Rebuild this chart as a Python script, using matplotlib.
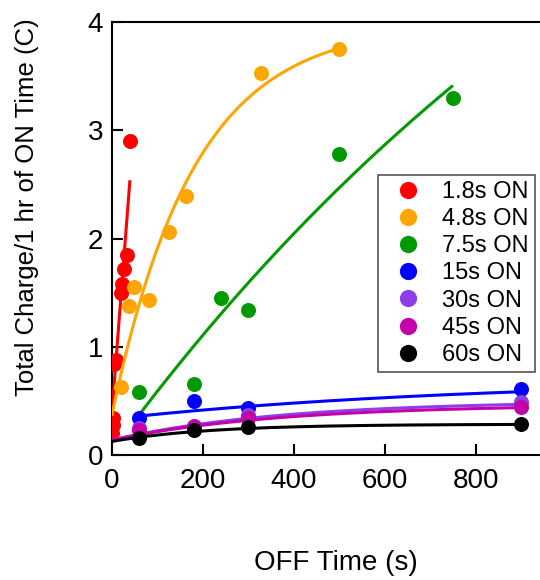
import numpy as np
import matplotlib
matplotlib.use("Agg")
import matplotlib.pyplot as plt

plt.rcParams['font.family'] = ['Liberation Sans', 'DejaVu Sans']

# ---------------- data ----------------
labels = ["1.8s ON", "4.8s ON", "7.5s ON", "15s ON", "30s ON", "45s ON", "60s ON"]
colors = ["#FF0000", "#FFA500", "#009900", "#0000FF", "#8E3EE6", "#C400A8", "#000000"]

x_18 = [1, 2, 3, 5, 10, 20, 23, 28, 34, 40]
y_18 = [0.20, 0.28, 0.34, 0.84, 0.88, 1.50, 1.585, 1.72, 1.85, 2.90]

x_48 = [20, 39, 49, 81, 127, 163, 327, 500]
y_48 = [0.625, 1.38, 1.555, 1.43, 2.06, 2.39, 3.53, 3.755]

x_75 = [60, 180, 240, 300, 500, 750]
y_75 = [0.585, 0.66, 1.45, 1.34, 2.78, 3.30]

x_15 = [60, 180, 300, 900]
y_15 = [0.34, 0.50, 0.43, 0.61]

x_30 = [60, 180, 300, 900]
y_30 = [0.246, 0.26, 0.37, 0.49]

x_45 = [60, 180, 300, 900]
y_45 = [0.235, 0.27, 0.34, 0.446]

x_60 = [60, 180, 300, 900]
y_60 = [0.154, 0.23, 0.26, 0.29]

xs = [x_18, x_48, x_75, x_15, x_30, x_45, x_60]
ys = [y_18, y_48, y_75, y_15, y_30, y_45, y_60]

# fit curves: y = y0 + A*(1 - exp(-(x - xstart)/tau)); tau=None -> linear y0 + A*(x - xstart)
fit_xstart = [0, 0, 60, 60, 0, 0, 0]
fit_xend = [40, 500, 750, 900, 900, 900, 900]
fit_y0 = [0.36, 0.36, 0.37, 0.36, 0.138, 0.138, 0.125]
fit_A = [0.0545, 3.625, 8.26, 0.346, 0.362, 0.329, 0.160]
fit_tau = [None, 180, 1500, 800, 370, 370, 215]

# ---------------- figure ----------------
W, H = 540, 580
fig = plt.figure(figsize=(W / 100, H / 100), dpi=100)
ax = fig.add_axes([111.7 / W, 125 / H, 432.3 / W, 432.7 / H])

for i in range(len(labels)):
    xf = np.linspace(fit_xstart[i], fit_xend[i], 300)
    if fit_tau[i] is None:
        yf = fit_y0[i] + fit_A[i] * (xf - fit_xstart[i])
    else:
        yf = fit_y0[i] + fit_A[i] * (1 - np.exp(-(xf - fit_xstart[i]) / fit_tau[i]))
    ax.plot(xs[i], ys[i], linestyle='none', marker='o', markersize=10.8,
            markeredgewidth=0, color=colors[i], label=labels[i], zorder=3 + 2 * i)
    ax.plot(xf, yf, color=colors[i], lw=2.2, zorder=3 + 2 * i, solid_capstyle='butt')

ax.set_xlim(0, 950)
ax.set_ylim(0, 4)
ax.set_xticks([0, 200, 400, 600, 800])
ax.set_yticks([0, 1, 2, 3, 4])
ax.tick_params(direction='in', length=8, width=1.5, labelsize=20, pad=6)
ax.tick_params(axis='x', pad=9)
for s in ax.spines.values():
    s.set_linewidth(1.5)

fig.text(27.5 / W, 1 - 207 / H, "Total Charge/1 hr of ON Time (C)", rotation=90,
         ha='center', va='center', fontsize=18.5)
fig.text(335.8 / W, 1 - 563 / H, "OFF Time (s)", ha='center', va='center', fontsize=20)

leg = ax.legend(loc='upper left', bbox_to_anchor=(378.3 / W, 1 - 175 / H),
                bbox_transform=fig.transFigure, borderaxespad=0, borderpad=0.25,
                handlelength=2.05, handletextpad=0.415, labelspacing=0.22,
                fontsize=17, numpoints=1, markerscale=1.15, fancybox=False, framealpha=1)
leg.get_frame().set_edgecolor('#555555')
leg.get_frame().set_linewidth(1.2)
leg.set_zorder(30)

fig.savefig("out.png", dpi=100)
